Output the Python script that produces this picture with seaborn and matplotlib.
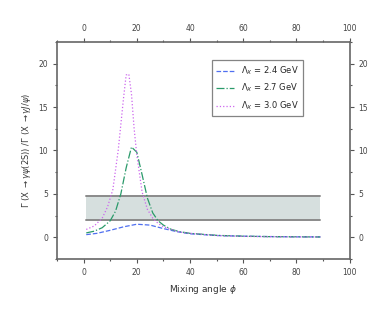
import numpy as np
import pandas as pd
import matplotlib
matplotlib.use('Agg')
import matplotlib.pyplot as plt
from matplotlib.ticker import MultipleLocator
import seaborn as sns

sns.set_style('white')
plt.rcParams['font.family'] = 'DejaVu Sans'

# data
x_24 = [1, 5, 10, 15, 20, 25, 30, 35, 40, 50, 60, 70, 80, 89]
y_24 = [0.3, 0.45, 0.8, 1.2, 1.5, 1.4, 1.0, 0.65, 0.4, 0.2, 0.12, 0.08, 0.05, 0.04]

x_27 = [1, 4, 7, 10, 12, 14, 16, 18, 20, 22, 24, 26, 28, 30, 33, 36, 40, 50, 60, 70, 80, 89]
y_27 = [0.5, 0.7, 1.1, 1.9, 3.0, 5.0, 8.0, 10.4, 9.8, 7.2, 4.5, 2.8, 1.9, 1.4, 0.9, 0.65, 0.45,
        0.22, 0.12, 0.07, 0.05, 0.03]

x_30 = [1, 4, 7, 9, 11, 13, 15, 16, 17, 18, 19, 20, 22, 24, 26, 28, 30, 33, 36, 40, 50, 60, 70, 80, 89]
y_30 = [0.9, 1.3, 2.2, 3.5, 5.5, 10.0, 16.0, 18.7, 18.8, 16.5, 12.5, 9.5, 5.2, 3.2, 2.2, 1.6, 1.2,
        0.9, 0.6, 0.45, 0.2, 0.1, 0.06, 0.04, 0.03]

band_x = [1, 89]
band_lo = 2.0
band_hi = 4.8

labels = [r'$\Lambda_X$ = 2.4 GeV', r'$\Lambda_X$ = 2.7 GeV', r'$\Lambda_X$ = 3.0 GeV']
colors = ['#4f6ff0', '#2a9a6a', '#cc66ee']
styles = ['--', '-.', ':']

fig, ax = plt.subplots(figsize=(3.8, 3.09), dpi=100)
fig.subplots_adjust(left=0.15, right=0.92, top=0.864, bottom=0.162)

ax.fill_between(band_x, band_lo, band_hi, color='#d6dfde', lw=0)
ax.plot(band_x, [band_lo, band_lo], color='#8a8a8a', lw=1.4)
ax.plot(band_x, [band_hi, band_hi], color='#8a8a8a', lw=1.4)

for xs, ys, lab, c, ls in zip([x_24, x_27, x_30], [y_24, y_27, y_30], labels, colors, styles):
    sns.lineplot(x=xs, y=ys, ax=ax, color=c, linestyle=ls, lw=0.9, label=lab)

ax.set_xlim(-10, 100)
ax.set_ylim(-2.5, 22.5)
ax.xaxis.set_major_locator(MultipleLocator(20))
ax.xaxis.set_minor_locator(MultipleLocator(10))
ax.yaxis.set_major_locator(MultipleLocator(5))
ax.yaxis.set_minor_locator(MultipleLocator(2.5))
ax.set_xticks([0, 20, 40, 60, 80, 100])
ax.set_yticks([0, 5, 10, 15, 20])

for sp in ax.spines.values():
    sp.set_color('#666666')
    sp.set_linewidth(1.2)

ax.tick_params(which='both', direction='out', color='#555555', labelsize=5.5, labelcolor='#444444',
               top=True, right=True, labeltop=True, labelright=True, bottom=True, left=True)
ax.tick_params(which='major', length=3, width=0.8)
ax.tick_params(which='minor', length=1.5, width=0.8)

ax.set_xlabel(r'Mixing angle $\phi$', fontsize=6.5, color='#333333')
ax.set_ylabel(r'$\Gamma$ (X $\rightarrow\gamma\psi$(2S)) /$\Gamma$ (X $\rightarrow\gamma J/\psi$)',
              fontsize=6, color='#333333')

leg = ax.legend(loc='upper right', bbox_to_anchor=(0.855, 0.935), fontsize=6, frameon=True,
                fancybox=False, handlelength=2.2, borderpad=0.5, labelspacing=0.6)
leg.get_frame().set_edgecolor('#666666')
leg.get_frame().set_linewidth(0.9)

fig.savefig('out.png', dpi=100)
